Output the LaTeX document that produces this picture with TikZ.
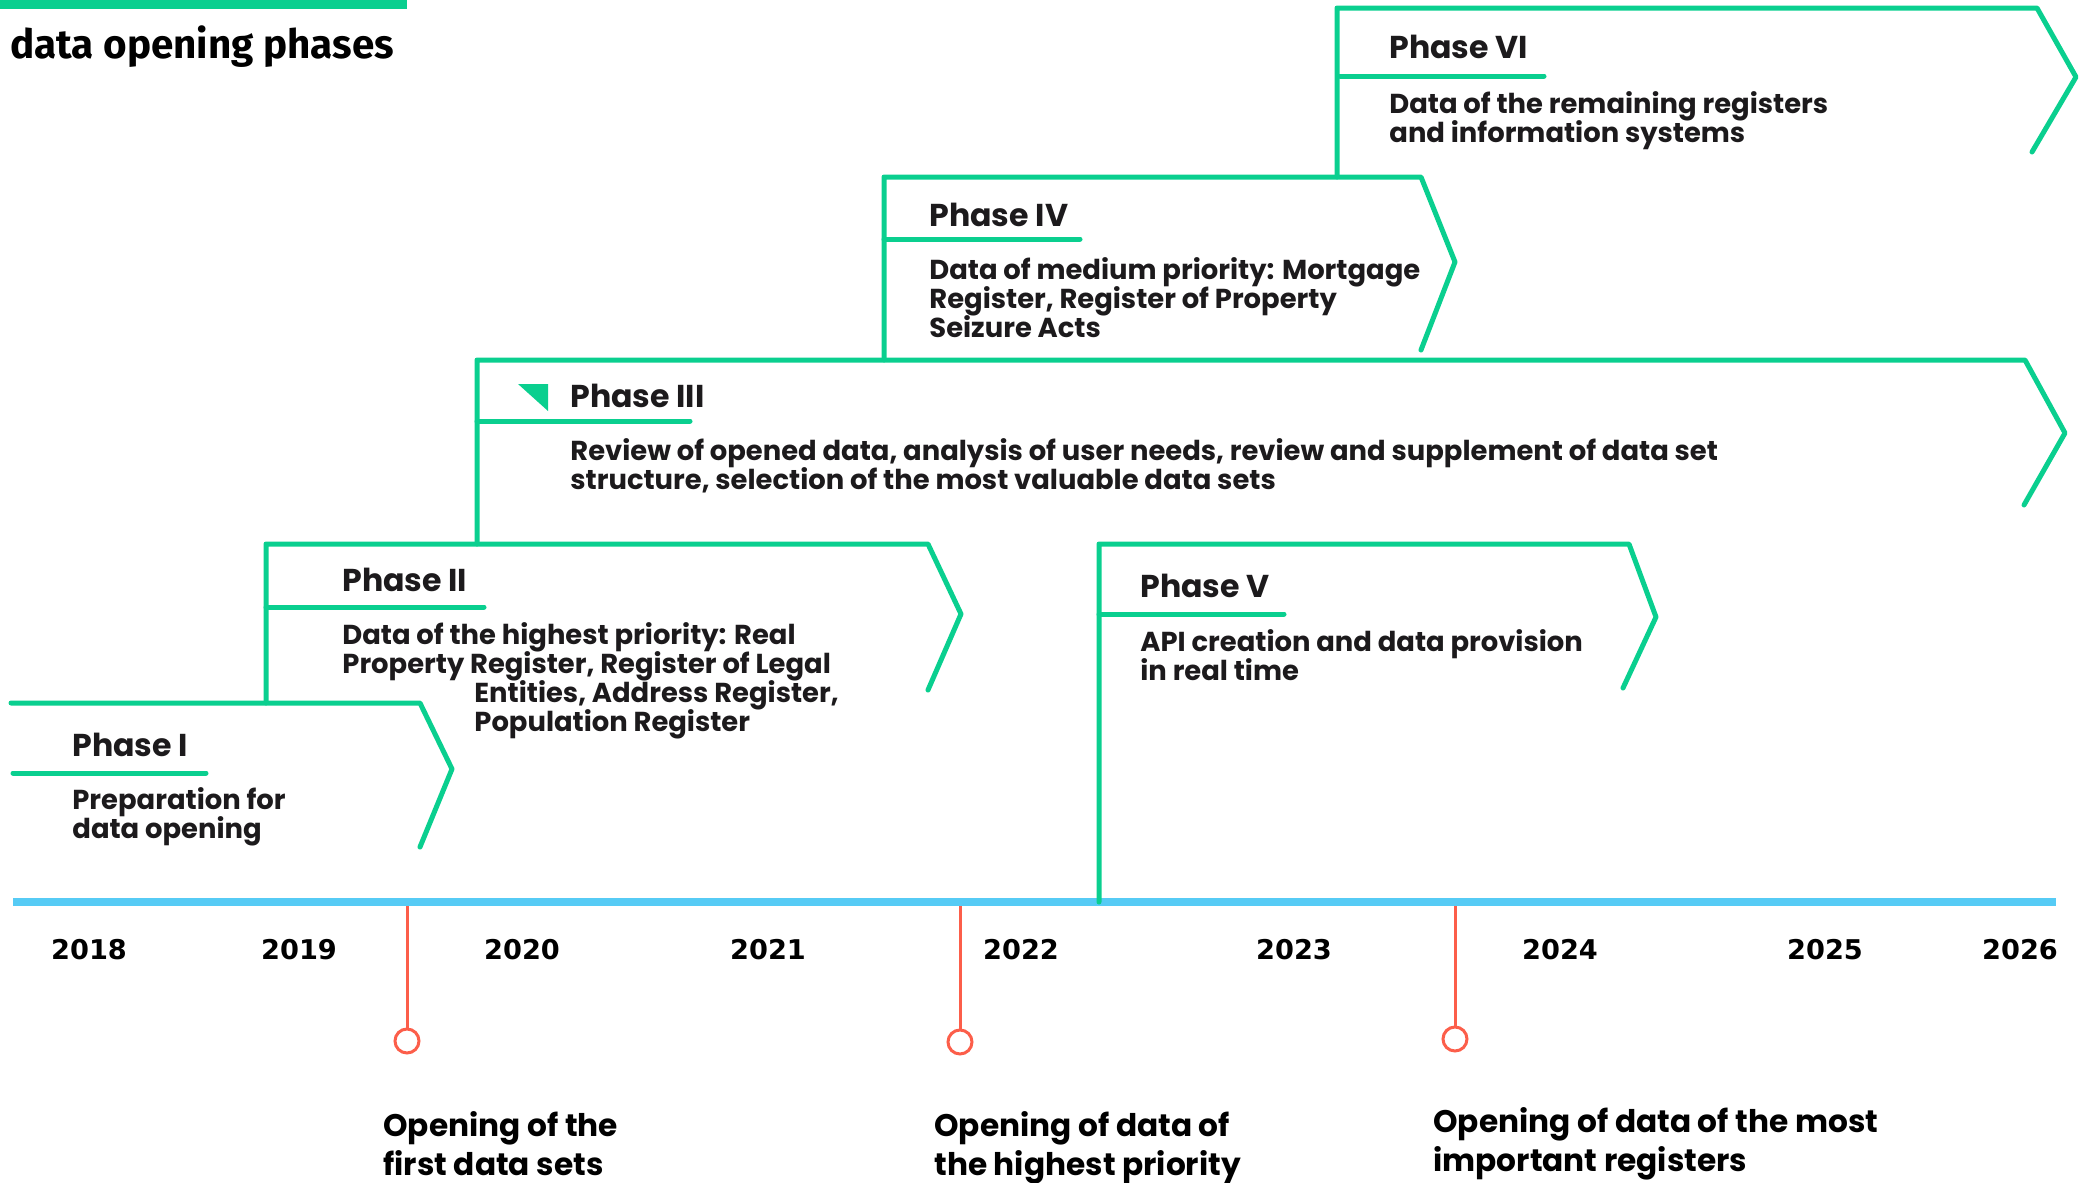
\documentclass[tikz,border=0pt]{standalone}
\usepackage{fontspec}
\setmainfont{Poppins}
\newfontfamily\titlefont{Fira Sans}
\newfontfamily\yearfont{DejaVu Sans}
\definecolor{pgreen}{RGB}{10,207,143}
\definecolor{tblue}{RGB}{86,203,245}
\definecolor{mred}{RGB}{252,94,74}
\definecolor{ink}{RGB}{28,26,28}
\newcommand\tightlines{\lineskiplimit -20pt\relax}
\begin{document}
\begin{tikzpicture}[x=0.5pt,y=-0.5pt,
  phase/.style={draw=pgreen,line width=2.5pt,line join=round,line cap=round},
  ptitle/.style={anchor=west,inner sep=0pt,text=ink,font=\bfseries\fontsize{15.8}{18}\selectfont},
  pbody/.style={anchor=north west,inner sep=0pt,align=left,text=ink,font={\bfseries\fontsize{13.7}{14.6}\selectfont\tightlines}},
  year/.style={inner sep=0pt,text=black,font=\yearfont\bfseries\fontsize{13.6}{16}\selectfont},
  mtext/.style={anchor=north west,inner sep=0pt,align=left,text=black,font={\bfseries\fontsize{15.6}{19.3}\selectfont\tightlines}},
  mstem/.style={draw=mred,line width=1.5pt},
  mcircle/.style={circle,draw=mred,line width=1.5pt,fill=white,minimum size=12pt,inner sep=0pt}]
\useasboundingbox (0,0) rectangle (2084,1183);

% title
\fill[pgreen] (0,0) rectangle (407,9);
\node[anchor=base west,inner sep=0pt,font=\titlefont\bfseries\fontsize{20.2}{24}\selectfont] (title) at (10,58) {data opening phases};

% timeline
\coordinate (tlA) at (13,902);
\coordinate (tlB) at (2056,902);
\draw[tblue,line width=4pt] (tlA) -- (tlB);

% Phase I
\draw[phase] (11,703) -- (420,703) -- (452,769) -- (420,847);
\draw[phase] (13,773) -- (206,773);
\node[ptitle] (t1) at (72,745) {Phase I};
\node[pbody] (b1) at (72,787) {Preparation for\\data opening};

% Phase II
\draw[phase] (266,703) -- (266,544) -- (928,544) -- (961,614) -- (928,690);
\draw[phase] (266,607) -- (484,607);
\node[ptitle] (t2) at (342,580) {Phase II};
\node[pbody] (b2) at (342,622) {Data of the highest priority: Real\\Property Register, Register of Legal\\\hspace*{66pt}Entities, Address Register,\\\hspace*{66pt}Population Register};

% Phase III
\draw[phase] (477,544) -- (477,360) -- (2025,360) -- (2065,433) -- (2024,505);
\draw[phase] (477,421) -- (690,421);
\fill[pgreen] (518,384) -- (548,384) -- (548,411) -- cycle;
\node[ptitle] (t3) at (570,396) {Phase III};
\node[pbody] (b3) at (570,438) {Review of opened data, analysis of user needs, review and supplement of data set\\structure, selection of the most valuable data sets};

% Phase IV
\draw[phase] (884,360) -- (884,177) -- (1421,177) -- (1455,262) -- (1421,350);
\draw[phase] (884,239) -- (1080,239);
\node[ptitle] (t4) at (929,215) {Phase IV};
\node[pbody] (b4) at (929,257) {Data of medium priority: Mortgage\\Register, Register of Property\\Seizure Acts};

% Phase V
\draw[phase] (1099,902) -- (1099,544) -- (1629,544) -- (1656,617) -- (1623,688);
\draw[phase] (1099,614) -- (1284,614);
\node[ptitle] (t5) at (1140,586) {Phase V};
\node[pbody] (b5) at (1140,629) {API creation and data provision\\in real time};

% Phase VI
\draw[phase] (1337,177) -- (1337,8) -- (2037,8) -- (2076,77) -- (2032,152);
\draw[phase] (1340,76) -- (1544,76);
\node[ptitle] (t6) at (1389,47) {Phase VI};
\node[pbody] (b6) at (1389,91) {Data of the remaining registers\\and information systems};

% years
\node[year] (y2018) at (89,950) {2018};
\node[year] (y2019) at (299,950) {2019};
\node[year] (y2020) at (522,950) {2020};
\node[year] (y2021) at (768,950) {2021};
\node[year] (y2022) at (1021,950) {2022};
\node[year] (y2023) at (1294,950) {2023};
\node[year] (y2024) at (1560,950) {2024};
\node[year] (y2025) at (1825,950) {2025};
\node[year] (y2026) at (2020,950) {2026};

% milestones
\coordinate (a1) at (407,906);
\coordinate (a2) at (960,906);
\coordinate (a3) at (1455,906);
\node[mcircle] (m1) at (407,1041) {};
\node[mcircle] (m2) at (960,1042) {};
\node[mcircle] (m3) at (1455,1039) {};
\draw[mstem] (a1) -- (m1.north);
\draw[mstem] (a2) -- (m2.north);
\draw[mstem] (a3) -- (m3.north);
\node[mtext] (mt1) at (383,1111) {Opening of the\\first data sets};
\node[mtext] (mt2) at (934,1111) {Opening of data of\\the highest priority};
\node[mtext] (mt3) at (1433,1107) {Opening of data of the most\\important registers};
\end{tikzpicture}
\end{document}
